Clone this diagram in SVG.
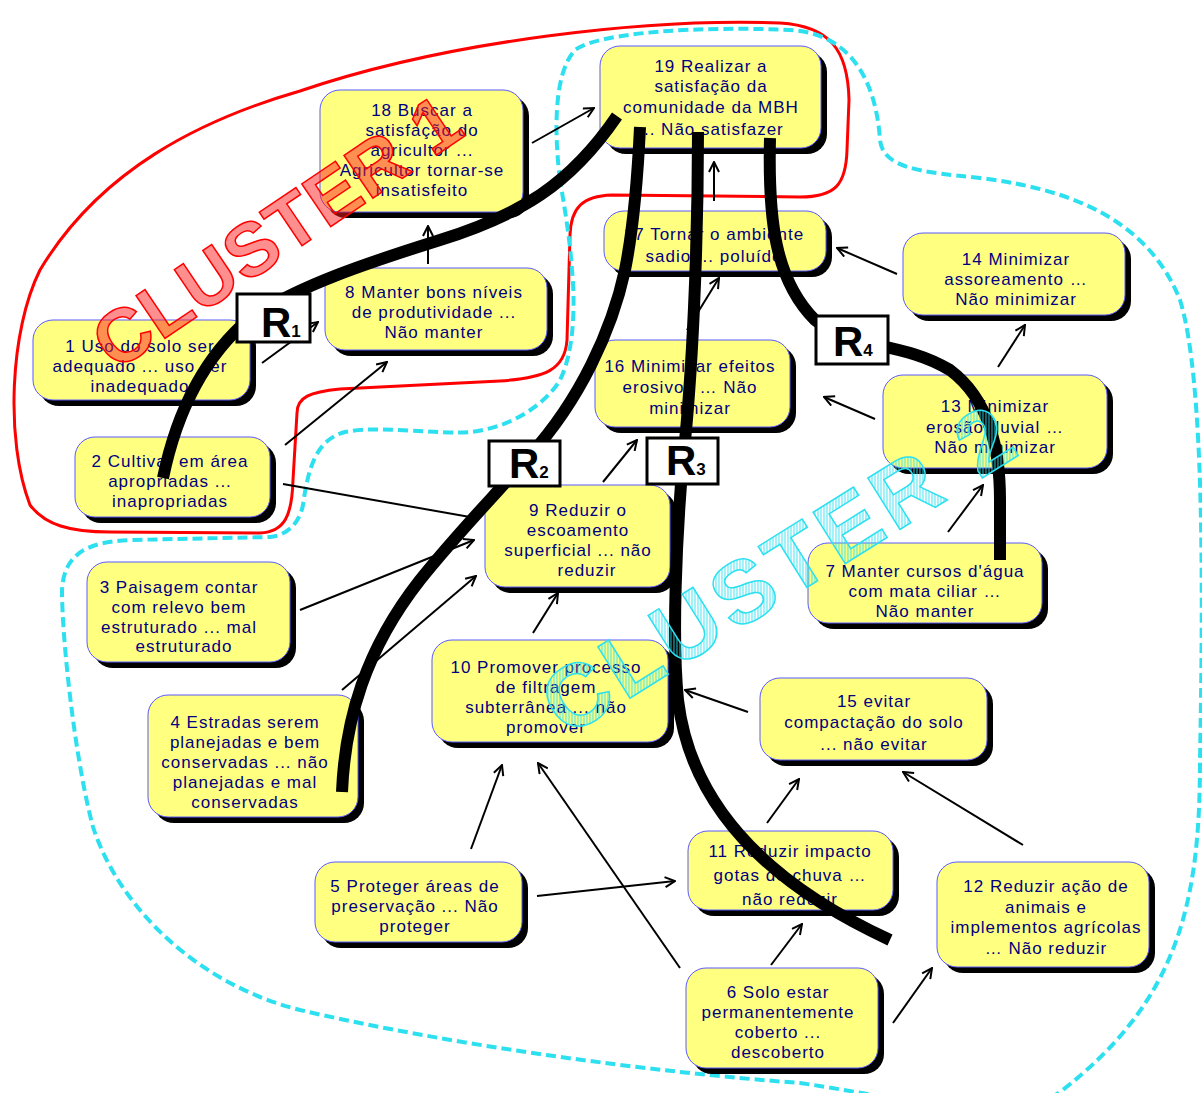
<svg xmlns="http://www.w3.org/2000/svg" width="1202" height="1093" viewBox="0 0 1202 1093">
<style>
.bx{fill:#FFFF80;stroke:#5a5aff;stroke-width:1}
.sh{fill:#000}
.t{font-family:"Liberation Sans",Arial,sans-serif;font-size:17px;fill:#000080;text-anchor:middle;letter-spacing:1px}
.ar{fill:none;stroke:#000;stroke-width:2;marker-end:url(#ah)}
.ln{fill:none;stroke:#000;stroke-width:2}
.thick{fill:none;stroke:#000;stroke-width:12}
.rb{fill:#fff;stroke:#000;stroke-width:3}
.rt{font-family:"Liberation Sans",Arial,sans-serif;font-weight:bold;font-size:42px;fill:#000}
.rs{font-size:17px}
</style>
<defs>
<marker id="ah" viewBox="0 0 12 12" refX="11" refY="6" markerWidth="12" markerHeight="12" markerUnits="userSpaceOnUse" orient="auto">
<path d="M1,1 L11,6 L1,11" fill="none" stroke="#000" stroke-width="2"/>
</marker>
<pattern id="hatch" width="3" height="3" patternUnits="userSpaceOnUse" patternTransform="rotate(32)">
<line x1="1" y1="0" x2="1" y2="3" stroke="#2CE0F0" stroke-width="0.9"/>
</pattern>
</defs>
<rect width="1202" height="1093" fill="#fff"/>
<g id="clusters">
<path id="cluster1-outline" d="M 297,413 C 297,397 310,392 340,389 L 500,381 C 545,378 565,370 567,340 L 570,235 C 571,208 582,196 612,195 L 800,197 C 835,197 846,185 847,150 L 849,100 C 848,50 830,26 780,23 C 650,18 450,40 300,91 C 200,120 100,170 40,270 C 10,330 5,440 30,505 C 45,525 70,532 110,532 L 260,533 C 285,532 292,515 293,480 Z" fill="none" stroke="#ff0000" stroke-width="3"/>
<path id="cluster2-outline" d="M 560,180 C 555,140 552,75 575,50 C 600,32 700,26 790,30 C 850,33 876,80 880,140 C 883,168 920,172 980,178 C 1080,190 1150,225 1180,300 C 1205,380 1203,600 1200,760 C 1200,900 1180,1000 1060,1092 C 1000,1130 920,1100 800,1083 C 650,1072 450,1045 300,1010 C 200,985 120,910 93,827 C 75,760 62,640 62,590 C 64,555 85,542 130,540 L 270,537 C 290,535 300,520 303,505 C 308,470 315,440 345,432 C 380,425 440,435 470,432 C 510,428 545,405 560,380 C 575,350 575,300 572,270 C 570,240 565,210 560,180 Z" fill="none" stroke="#2CE0F0" stroke-width="4" stroke-dasharray="10,5"/>
</g>
<g id="n18"><rect class="sh" x="326" y="96" width="203" height="122" rx="20"/><rect class="bx" x="320" y="90" width="203" height="122" rx="20"/>
<text class="t"><tspan x="422" y="116">18 Buscar a</tspan><tspan x="422" y="136">satisfação do</tspan><tspan x="422" y="156">agricultor ...</tspan><tspan x="422" y="176">Agricultor tornar-se</tspan><tspan x="422" y="196">insatisfeito</tspan></text></g>
<g id="n19"><rect class="sh" x="606" y="52" width="221" height="102" rx="20"/><rect class="bx" x="600" y="46" width="221" height="102" rx="20"/>
<text class="t"><tspan x="711" y="72">19 Realizar a</tspan><tspan x="711" y="92">satisfação da</tspan><tspan x="711" y="113">comunidade da MBH</tspan><tspan x="711" y="135">... Não satisfazer</tspan></text></g>
<g id="n17"><rect class="sh" x="610" y="217" width="222" height="60" rx="20"/><rect class="bx" x="604" y="211" width="222" height="60" rx="20"/>
<text class="t"><tspan x="714" y="240">17 Tornar o ambiente</tspan><tspan x="714" y="262">sadio ... poluído</tspan></text></g>
<g id="n14"><rect class="sh" x="909" y="239" width="222" height="82" rx="20"/><rect class="bx" x="903" y="233" width="222" height="82" rx="20"/>
<text class="t"><tspan x="1016" y="265">14 Minimizar</tspan><tspan x="1016" y="285">assoreamento …</tspan><tspan x="1016" y="305">Não minimizar</tspan></text></g>
<g id="n8"><rect class="sh" x="331" y="274" width="222" height="82" rx="20"/><rect class="bx" x="325" y="268" width="222" height="82" rx="20"/>
<text class="t"><tspan x="434" y="298">8 Manter bons níveis</tspan><tspan x="434" y="318">de produtividade ...</tspan><tspan x="434" y="338">Não manter</tspan></text></g>
<g id="n1"><rect class="sh" x="39" y="326" width="217" height="80" rx="20"/><rect class="bx" x="33" y="320" width="217" height="80" rx="20"/>
<text class="t"><tspan x="140" y="352">1 Uso do solo ser</tspan><tspan x="140" y="372">adequado ... uso ser</tspan><tspan x="140" y="392">inadequado</tspan></text></g>
<g id="n16"><rect class="sh" x="601" y="346" width="195" height="87" rx="20"/><rect class="bx" x="595" y="340" width="195" height="87" rx="20"/>
<text class="t"><tspan x="690" y="372">16 Minimizar efeitos</tspan><tspan x="690" y="393">erosivos … Não</tspan><tspan x="690" y="414">minimizar</tspan></text></g>
<g id="n13"><rect class="sh" x="889" y="381" width="224" height="93" rx="20"/><rect class="bx" x="883" y="375" width="224" height="93" rx="20"/>
<text class="t"><tspan x="995" y="412">13 Minimizar</tspan><tspan x="995" y="433">erosão fluvial …</tspan><tspan x="995" y="453">Não minimizar</tspan></text></g>
<g id="n2"><rect class="sh" x="81" y="443" width="195" height="80" rx="20"/><rect class="bx" x="75" y="437" width="195" height="80" rx="20"/>
<text class="t"><tspan x="170" y="467">2 Cultivar em área</tspan><tspan x="170" y="487">apropriadas ...</tspan><tspan x="170" y="507">inapropriadas</tspan></text></g>
<g id="n9"><rect class="sh" x="491" y="491" width="185" height="102" rx="20"/><rect class="bx" x="485" y="485" width="185" height="102" rx="20"/>
<text class="t"><tspan x="578" y="516">9 Reduzir o</tspan><tspan x="578" y="536">escoamento</tspan><tspan x="578" y="556">superficial ... não</tspan><tspan x="587" y="576">reduzir</tspan></text></g>
<g id="n7"><rect class="sh" x="814" y="549" width="234" height="80" rx="20"/><rect class="bx" x="808" y="543" width="234" height="80" rx="20"/>
<text class="t"><tspan x="925" y="577">7 Manter cursos d'água</tspan><tspan x="925" y="597">com mata ciliar …</tspan><tspan x="925" y="617">Não manter</tspan></text></g>
<g id="n3"><rect class="sh" x="93" y="568" width="203" height="100" rx="20"/><rect class="bx" x="87" y="562" width="203" height="100" rx="20"/>
<text class="t"><tspan x="179" y="593">3 Paisagem contar</tspan><tspan x="179" y="613">com relevo bem</tspan><tspan x="179" y="633">estruturado ... mal</tspan><tspan x="184" y="652">estruturado</tspan></text></g>
<g id="n10"><rect class="sh" x="438" y="646" width="236" height="102" rx="20"/><rect class="bx" x="432" y="640" width="236" height="102" rx="20"/>
<text class="t"><tspan x="546" y="673">10 Promover processo</tspan><tspan x="546" y="693">de filtragem</tspan><tspan x="546" y="713">subterrânea ... não</tspan><tspan x="546" y="733">promover</tspan></text></g>
<g id="n15"><rect class="sh" x="766" y="684" width="227" height="82" rx="20"/><rect class="bx" x="760" y="678" width="227" height="82" rx="20"/>
<text class="t"><tspan x="874" y="707">15 evitar</tspan><tspan x="874" y="728">compactação do solo</tspan><tspan x="874" y="750">... não evitar</tspan></text></g>
<g id="n4"><rect class="sh" x="154" y="701" width="210" height="122" rx="20"/><rect class="bx" x="148" y="695" width="210" height="122" rx="20"/>
<text class="t"><tspan x="245" y="728">4 Estradas serem</tspan><tspan x="245" y="748">planejadas e bem</tspan><tspan x="245" y="768">conservadas ... não</tspan><tspan x="245" y="788">planejadas e mal</tspan><tspan x="245" y="808">conservadas</tspan></text></g>
<g id="n11"><rect class="sh" x="694" y="837" width="205" height="79" rx="20"/><rect class="bx" x="688" y="831" width="205" height="79" rx="20"/>
<text class="t"><tspan x="790" y="857">11 Reduzir impacto</tspan><tspan x="790" y="881">gotas de chuva …</tspan><tspan x="790" y="905">não reduzir</tspan></text></g>
<g id="n5"><rect class="sh" x="321" y="868" width="207" height="80" rx="20"/><rect class="bx" x="315" y="862" width="207" height="80" rx="20"/>
<text class="t"><tspan x="415" y="892">5 Proteger áreas de</tspan><tspan x="415" y="912">preservação ... Não</tspan><tspan x="415" y="932">proteger</tspan></text></g>
<g id="n12"><rect class="sh" x="943" y="868" width="212" height="105" rx="20"/><rect class="bx" x="937" y="862" width="212" height="105" rx="20"/>
<text class="t"><tspan x="1046" y="892">12 Reduzir ação de</tspan><tspan x="1046" y="913">animais e</tspan><tspan x="1046" y="933">implementos agrícolas</tspan><tspan x="1046" y="954">… Não reduzir</tspan></text></g>
<g id="n6"><rect class="sh" x="692" y="974" width="192" height="100" rx="20"/><rect class="bx" x="686" y="968" width="192" height="100" rx="20"/>
<text class="t"><tspan x="778" y="998">6 Solo estar</tspan><tspan x="778" y="1018">permanentemente</tspan><tspan x="778" y="1038">coberto ...</tspan><tspan x="778" y="1058">descoberto</tspan></text></g>
<g id="connectors">
<line class="ar" x1="532" y1="143" x2="594" y2="108"/>
<line class="ar" x1="428" y1="264" x2="428" y2="226"/>
<line class="ar" x1="262" y1="363" x2="318" y2="322"/>
<line class="ar" x1="285" y1="445" x2="387" y2="362"/>
<line class="ln" x1="283" y1="484" x2="470" y2="517"/>
<line class="ar" x1="300" y1="610" x2="474" y2="540"/>
<line class="ar" x1="342" y1="690" x2="476" y2="576"/>
<line class="ar" x1="533" y1="633" x2="558" y2="593"/>
<line class="ar" x1="603" y1="482" x2="637" y2="440"/>
<line class="ar" x1="687" y1="330" x2="719" y2="278"/>
<line class="ar" x1="714" y1="201" x2="714" y2="162"/>
<line class="ar" x1="897" y1="274" x2="837" y2="248"/>
<line class="ar" x1="998" y1="367" x2="1025" y2="325"/>
<line class="ar" x1="875" y1="419" x2="824" y2="397"/>
<line class="ar" x1="948" y1="532" x2="983" y2="485"/>
<line class="ar" x1="748" y1="712" x2="685" y2="690"/>
<line class="ar" x1="767" y1="823" x2="799" y2="779"/>
<line class="ar" x1="1023" y1="845" x2="903" y2="772"/>
<line class="ar" x1="471" y1="849" x2="502" y2="765"/>
<line class="ar" x1="680" y1="968" x2="538" y2="763"/>
<line class="ar" x1="537" y1="896" x2="675" y2="881"/>
<line class="ar" x1="771" y1="965" x2="802" y2="924"/>
<line class="ar" x1="893" y1="1023" x2="932" y2="968"/>
</g>
<g id="loops">
<path class="thick" d="M 163,478 C 175,420 200,360 250,318 C 300,285 370,262 440,240 C 520,215 570,185 617,116"/>
<path class="thick" d="M 342,792 C 345,720 365,650 420,580 C 460,530 500,490 530,455 C 580,400 612,330 625,270 C 635,220 638,170 640,127"/>
<path class="thick" d="M 698,132 C 698,250 692,380 683,460 C 676,540 672,640 678,700 C 690,800 760,880 890,940"/>
<path class="thick" d="M 770,138 C 768,220 775,280 815,320 C 850,350 900,340 950,370 C 990,400 1000,450 1000,500 L 1000,560"/>
</g>
<g id="R1"><rect class="rb" x="237" y="294" width="73" height="48"/><text class="rt" x="261" y="337">R<tspan class="rs">1</tspan></text></g>
<g id="R2"><rect class="rb" x="489" y="441" width="71" height="45"/><text class="rt" x="509" y="478">R<tspan class="rs">2</tspan></text></g>
<g id="R3"><rect class="rb" x="647" y="438" width="71" height="46"/><text class="rt" x="666" y="475">R<tspan class="rs">3</tspan></text></g>
<g id="R4"><rect class="rb" x="816" y="316" width="72" height="48"/><text class="rt" x="833" y="356">R<tspan class="rs">4</tspan></text></g>
<g id="labels">
<text x="115" y="372" transform="rotate(-34 115 372)" font-family="Liberation Sans, Arial, sans-serif" font-weight="bold" font-size="75" letter-spacing="1" fill="#ff2020" fill-opacity="0.5" stroke="#ff0000" stroke-width="1.5">CLUSTER 1</text>
<text x="566" y="738" transform="rotate(-32 566 738)" font-family="Liberation Sans, Arial, sans-serif" font-weight="bold" font-size="88" letter-spacing="6" fill="url(#hatch)" stroke="#2CE0F0" stroke-width="1.5">CLUSTER 2</text>
</g>
</svg>
